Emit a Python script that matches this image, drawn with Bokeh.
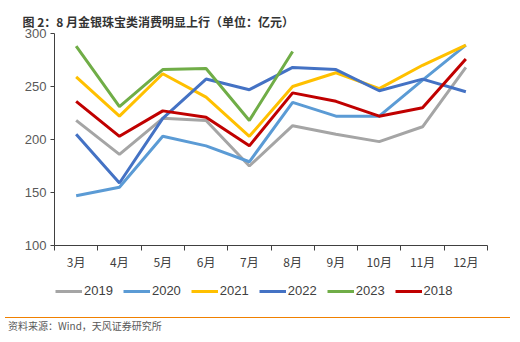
from bokeh.plotting import figure
from bokeh.models import FixedTicker, Legend, LegendItem, Title, Div
from bokeh.layouts import column
from bokeh.embed import file_html
from bokeh.resources import INLINE

months = ["3月", "4月", "5月", "6月", "7月", "8月", "9月", "10月", "11月", "12月"]
y2019 = [218, 186, 220, 218, 175, 213, 205, 198, 212, 268]
y2020 = [147, 155, 203, 194, 179, 235, 222, 222, 256, 289]
y2021 = [259, 222, 262, 240, 203, 250, 263, 248, 270, 289]
y2022 = [205, 159, 220, 257, 247, 268, 266, 246, 257, 245]
y2023 = [288, 231, 266, 267, 218, 283]
y2018 = [236, 203, 227, 221, 194, 244, 236, 222, 230, 276]

series = [("2019", y2019, "#A5A5A5"), ("2020", y2020, "#5B9BD5"),
          ("2021", y2021, "#FFC000"), ("2022", y2022, "#4472C4"),
          ("2023", y2023, "#70AD47"), ("2018", y2018, "#C00000")]

FONT = "Liberation Sans"
CJK = "Noto Sans CJK SC"

p = figure(width=520, height=275, output_backend="svg", toolbar_location=None,
           x_range=(0, 10), y_range=(100, 300),
           min_border_left=54, min_border_right=33, min_border_top=33, min_border_bottom=30)
p.outline_line_color = None
p.xgrid.visible = False
p.ygrid.visible = False

centers = [i + 0.5 for i in range(len(months))]
p.xaxis.ticker = FixedTicker(ticks=centers, minor_ticks=list(range(len(months) + 1)))
p.xaxis.major_label_overrides = {c: m for c, m in zip(centers, months)}
p.xaxis.major_tick_line_color = None
p.xaxis.minor_tick_in = 0
p.xaxis.minor_tick_out = 5
p.xaxis.minor_tick_line_color = "#404040"
p.xaxis.axis_line_color = "#404040"
p.xaxis.major_label_text_font = CJK
p.xaxis.major_label_text_font_size = "12px"
p.xaxis.major_label_text_color = "#404040"
p.xaxis.major_label_standoff = 1

p.yaxis.ticker = FixedTicker(ticks=[100, 150, 200, 250, 300])
p.yaxis.minor_tick_line_color = None
p.yaxis.major_tick_in = 0
p.yaxis.major_tick_out = 4
p.yaxis.major_tick_line_color = "#404040"
p.yaxis.axis_line_color = "#404040"
p.yaxis.major_label_text_font = FONT
p.yaxis.major_label_text_font_size = "13px"
p.yaxis.major_label_text_color = "#595959"
p.yaxis.major_label_standoff = 4

for name, vals, color in series:
    p.line(centers[:len(vals)], vals, line_color=color, line_width=3)

p.add_layout(Title(text="图 2：8 月金银珠宝类消费明显上行（单位：亿元）", align="left",
                   offset=-32, text_font=CJK, text_font_size="12px",
                   text_font_style="bold", text_color="#333333", standoff=8), "above")

# legend strip (frame aligned with the main plot)
p2 = figure(width=520, height=37, output_backend="svg", toolbar_location=None,
            x_range=(0, 10), y_range=(0, 1),
            min_border_left=54, min_border_right=33, min_border_top=0, min_border_bottom=0)
p2.axis.visible = False
p2.grid.visible = False
p2.outline_line_color = None

items = []
for name, vals, color in series:
    r = p2.line(centers[:len(vals)], vals, line_color=color, line_width=3)
    items.append(LegendItem(label=name, renderers=[r]))

legend = Legend(items=items, orientation="horizontal", location=(1, 14),
                label_text_font=FONT, label_text_font_size="13px",
                label_text_color="#404040", glyph_width=27, glyph_height=14,
                label_height=14, spacing=10, label_standoff=2, padding=0, margin=0,
                border_line_color=None, background_fill_alpha=0)
p2.add_layout(legend, "center")

note = Div(text="资料来源：Wind，天风证券研究所", width=505, height=30,
           styles={"border-top": "1px solid #F08000", "font-size": "10px",
                   "color": "#595959", "font-family": "'Noto Sans CJK SC', sans-serif",
                   "padding-left": "3px", "padding-top": "1px",
                   "line-height": "14px", "box-sizing": "border-box"})

layout = column(p, p2, note, spacing=0)
open("out.html", "w").write(file_html(layout, INLINE))
